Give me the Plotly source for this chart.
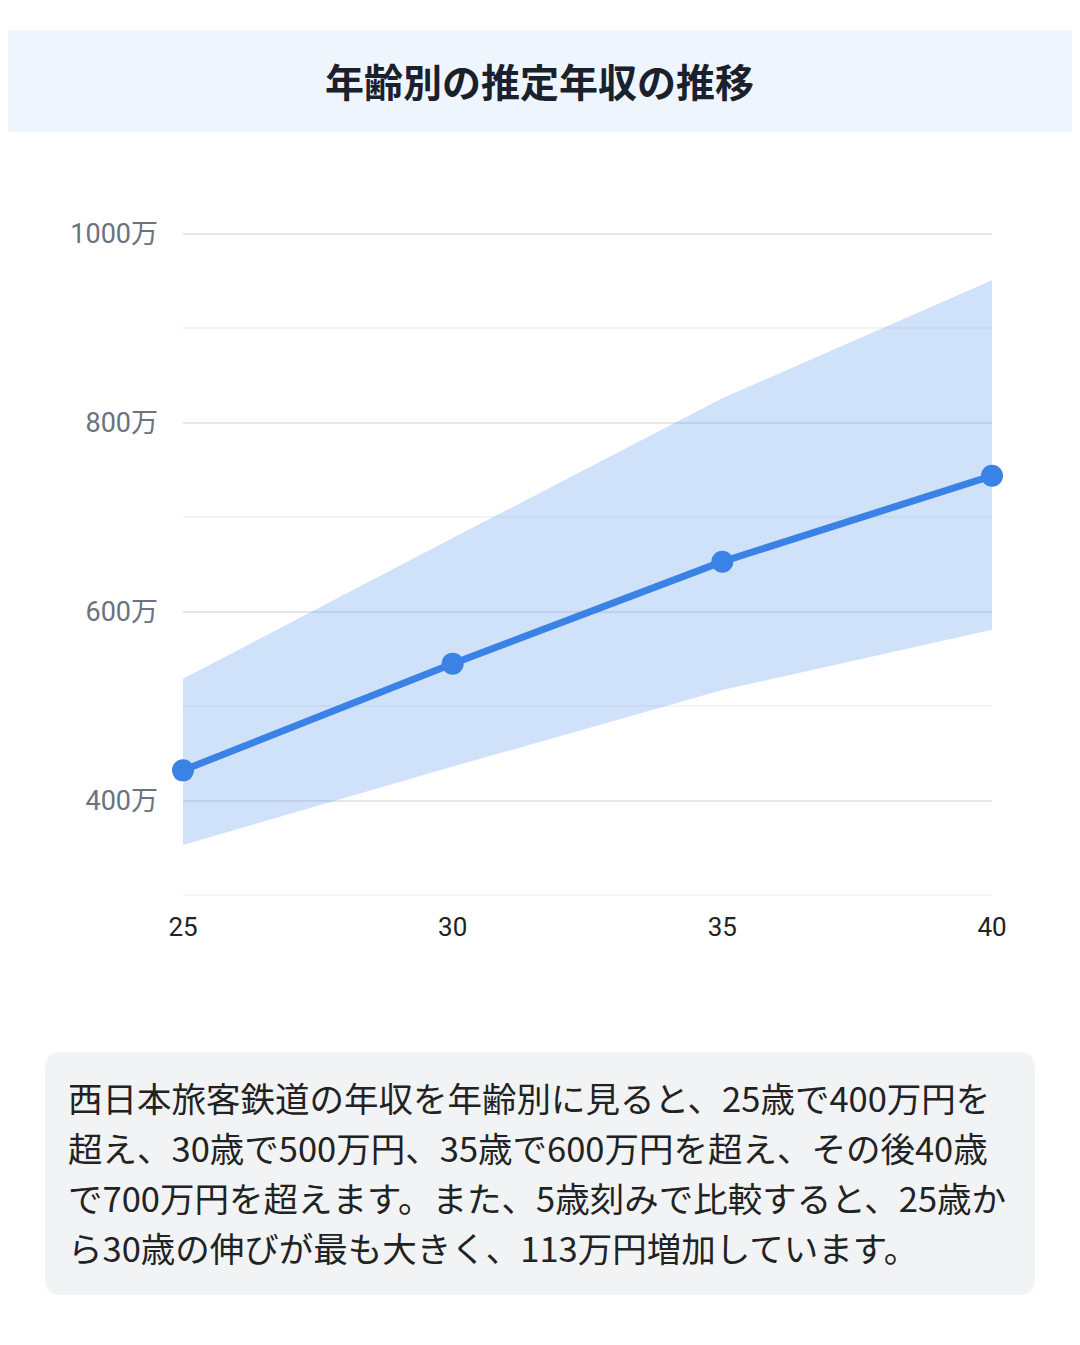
import plotly.graph_objects as go

ages = [25, 30, 35, 40]
median_income = [432, 545, 653, 744]
upper_income = [529, 678, 826, 951]
lower_income = [353, 436, 517, 581]
y_tick_vals = [400, 600, 800, 1000]
y_tick_text = ["400万", "600万", "800万", "1000万"]
x_tick_text = ["25", "30", "35", "40"]

title_text = "年齢別の推定年収の推移"
body_lines = [
    "西日本旅客鉄道の年収を年齢別に見ると、25歳で400万円を",
    "超え、30歳で500万円、35歳で600万円を超え、その後40歳",
    "で700万円を超えます。また、5歳刻みで比較すると、25歳か",
    "ら30歳の伸びが最も大きく、113万円増加しています。",
]

# page is 1080x1345 with an 8px body margin; map page coords into figure paper coords
OFF = 8
W, H = 1072, 1337
FONT = "Roboto, 'Noto Sans CJK JP', sans-serif"
JFONT = "'Noto Sans CJK JP', sans-serif"

def px(x):
    return (x - OFF) / W

def py(y):
    return 1 - (y - OFF) / H

fig = go.Figure()
fig.add_trace(go.Scatter(x=ages, y=lower_income, mode="lines", line=dict(width=0),
                         hoverinfo="skip", showlegend=False))
fig.add_trace(go.Scatter(x=ages, y=upper_income, mode="lines", line=dict(width=0),
                         fill="tonexty", fillcolor="rgba(96,160,240,0.30)",
                         hoverinfo="skip", showlegend=False))
fig.add_trace(go.Scatter(x=ages, y=median_income, mode="lines+markers",
                         line=dict(color="#3b82e6", width=7),
                         marker=dict(color="#3b82e6", size=22),
                         showlegend=False, cliponaxis=False))

def rounded_rect(x0, y0, x1, y1, r):
    rx, ry = r / W, r / H
    X0, X1 = px(x0), px(x1)
    Y0, Y1 = py(y1), py(y0)
    return (f"M {X0+rx},{Y0} L {X1-rx},{Y0} Q {X1},{Y0} {X1},{Y0+ry} "
            f"L {X1},{Y1-ry} Q {X1},{Y1} {X1-rx},{Y1} L {X0+rx},{Y1} "
            f"Q {X0},{Y1} {X0},{Y1-ry} L {X0},{Y0+ry} Q {X0},{Y0} {X0+rx},{Y0} Z")

shapes = [
    dict(type="rect", xref="paper", yref="paper", x0=px(0), x1=px(1080), y0=py(132), y1=py(30),
         fillcolor="#eef5fd", line=dict(width=0), layer="below"),
    dict(type="path", xref="paper", yref="paper", path=rounded_rect(45, 1052, 1035, 1295, 16),
         fillcolor="#f1f3f5", line=dict(width=0), layer="below"),
]

annotations = [
    dict(text=f"<b>{title_text}</b>", xref="paper", yref="paper", x=px(539), y=py(80),
         xanchor="center", yanchor="middle", showarrow=False,
         font=dict(family=JFONT, size=39, color="#1a202c")),
]
line_centers = [1097, 1147, 1197, 1247]
for line, yc in zip(body_lines, line_centers):
    annotations.append(dict(text=line, xref="paper", yref="paper", x=px(66), y=py(yc),
                            xanchor="left", yanchor="middle", align="left", showarrow=False,
                            font=dict(family=JFONT, size=34.5, color="#222222")))

# y range padded by 2 units so the 300 and 1000 grid lines are drawn
PXU = (895 - 234) / 700.0

fig.update_layout(
    width=W, height=H,
    margin=dict(l=0, r=0, t=0, b=0, autoexpand=False),
    paper_bgcolor="white", plot_bgcolor="white",
    shapes=shapes, annotations=annotations,
    xaxis=dict(domain=[px(183), px(992)], range=[25, 40], tickvals=ages, ticktext=x_tick_text,
               showgrid=False, zeroline=False, showline=False, automargin=False,
               tickfont=dict(family=FONT, size=26, color="#222222"),
               ticklabelstandoff=12),
    yaxis=dict(domain=[py(895 + 2 * PXU), py(234 - 2 * PXU)], range=[298, 1002],
               tickvals=y_tick_vals,
               ticktext=y_tick_text, showgrid=True, gridcolor="#e5e7eb", gridwidth=2,
               zeroline=False, showline=False, automargin=False,
               tickfont=dict(family=FONT, size=27, color="#6b7280"),
               ticklabelstandoff=24,
               minor=dict(tickvals=[300, 500, 700, 900], showgrid=True,
                          gridcolor="#f3f4f6", gridwidth=2)),
)

fig.write_html("out.html")
